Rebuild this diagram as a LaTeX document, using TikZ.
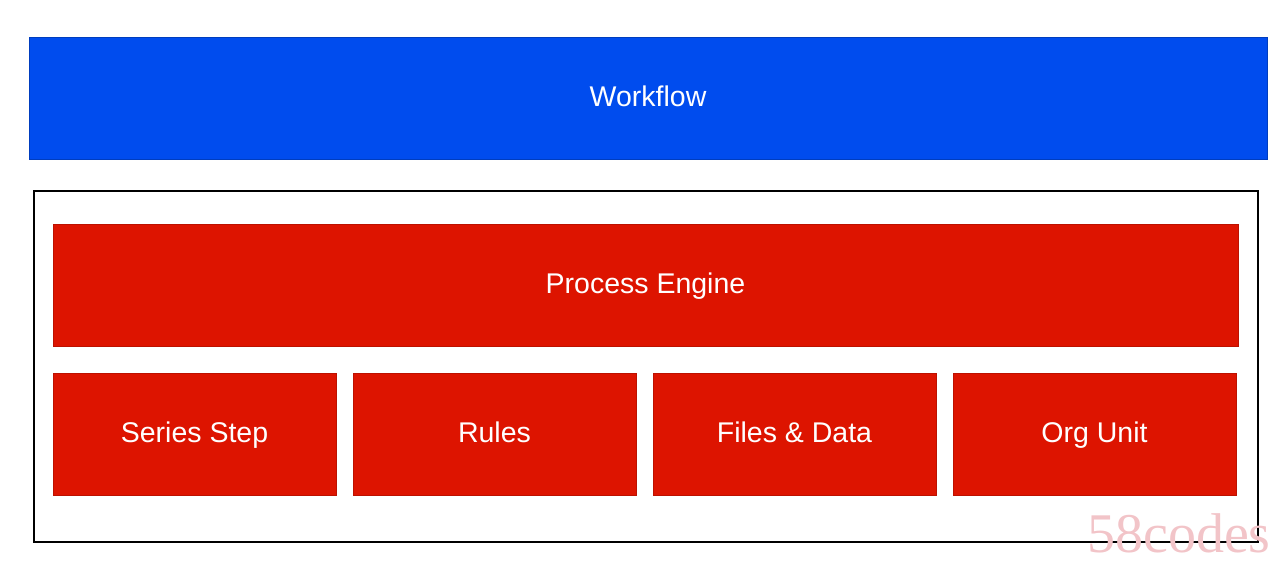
\documentclass[tikz,border=0pt]{standalone}
\usepackage{fontspec}
\setmainfont{Liberation Sans}
\newfontfamily\markfont{Liberation Serif}
\definecolor{wfblue}{RGB}{0,76,238}
\definecolor{pered}{RGB}{221,20,0}
\definecolor{markpink}{RGB}{242,196,200}

\begin{document}
\begin{tikzpicture}[x=1pt,y=-1pt,line cap=round]
	\tikzstyle{layer}=[inner sep=0pt,rectangle,text=white,font=\fontsize{28.5}{34}\selectfont,text height=20.5pt,text depth=4pt];
	\tikzstyle{part}=[layer,fill=pered,draw=pered!85!black,line width=0.6pt,minimum width=283pt,minimum height=122pt];
	\useasboundingbox (0,0) rectangle (1286,564);
	%% top layer
	\node[layer,fill=wfblue,draw=wfblue!80!black,line width=0.6pt,minimum width=1238pt,minimum height=122pt] (W) at (648,98) {Workflow};
	%% frame
	\node[inner sep=0pt,draw=black,line width=1.6pt,minimum width=1224pt,minimum height=351pt] (F) at (646,366.5) {};
	%% engine
	\node[part,minimum width=1185pt] (P) at (645.5,285) {Process Engine};
	%% parts
	\node[part] (S) at (194.5,434)  {Series Step};
	\node[part] (R) at (494.5,434)  {Rules};
	\node[part] (D) at (794.5,434)  {Files \& Data};
	\node[part] (O) at (1094.5,434) {Org Unit};
	%% watermark
	\node[inner sep=0pt,text=markpink,font=\markfont\fontsize{56}{62}\selectfont] (M) at (1179,533) {58codes};
\end{tikzpicture}
\end{document}
